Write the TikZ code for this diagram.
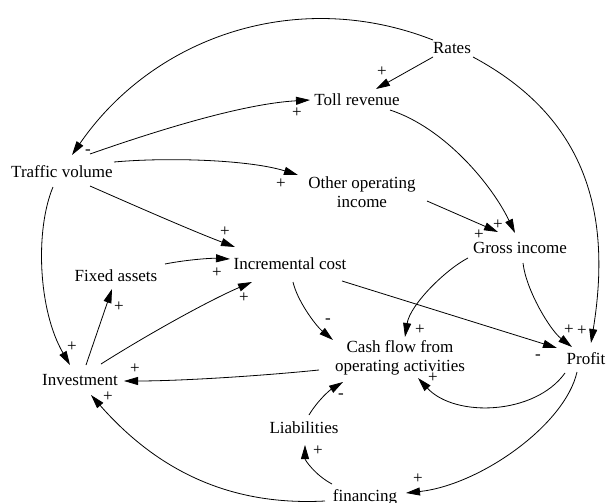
\documentclass[tikz,border=0pt]{standalone}
\usepackage{fontspec}
\setmainfont{Liberation Serif}
\usetikzlibrary{arrows.meta}
\begin{document}
\begin{tikzpicture}[x=1pt,y=-1pt,
  every node/.style={inner sep=0pt, font=\fontsize{17}{19.5}\selectfont},
  var/.style={align=center},
  lbl/.style={},
  link/.style={line width=0.8pt, -{Triangle[length=14pt,width=8pt]}}]
\useasboundingbox (0,0) rectangle (606,503);
% variables
\node[var] (rates) at (452,48) {Rates};
\node[var] (toll) at (357,100) {Toll revenue};
\node[var] (traffic) at (62,172) {Traffic volume};
\node[var] (other) at (362,192) {Other operating\\income};
\node[var] (gross) at (520,248) {Gross income};
\node[var] (incr) at (290,264) {Incremental cost};
\node[var] (fixed) at (116,276) {Fixed assets};
\node[var] (invest) at (80,380) {Investment};
\node[var] (cash) at (400,358) {Cash flow from\\operating activities};
\node[var] (profit) at (586,359) {Profit};
\node[var] (liab) at (304,428) {Liabilities};
\node[var] (fin) at (365,497) {financing};
% links
\draw[link] ([shift={(-19,-8)}]rates.center) .. controls (298,-13) and (154,36) .. ([shift={(10,-17)}]traffic.center);
\draw[link] ([shift={(-19,9)}]rates.center) -- ([shift={(19,-11)}]toll.center);
\draw[link] ([shift={(28,-18)}]traffic.center) .. controls (150,133) and (240,104) .. ([shift={(-47,0)}]toll.center);
\draw[link] ([shift={(52,-10)}]traffic.center) .. controls (170,157) and (250,160) .. ([shift={(-64,-17)}]other.center);
\draw[link] ([shift={(28,14)}]traffic.center) .. controls (140,208) and (195,232) .. ([shift={(-55,-17)}]incr.center);
\draw[link] ([shift={(-9,15)}]traffic.center) .. controls (35,230) and (38,310) .. ([shift={(-10,-15)}]invest.center);
\draw[link] ([shift={(33,10)}]toll.center) .. controls (445,128) and (492,185) .. ([shift={(-5,-15)}]gross.center);
\draw[link] ([shift={(65,9)}]other.center) -- ([shift={(-22,-16)}]gross.center);
\draw[link] ([shift={(21,9)}]rates.center) .. controls (587,118) and (612,214) .. ([shift={(5,-16)}]profit.center);
\draw[link] ([shift={(-52,10)}]gross.center) .. controls (445,270) and (410,305) .. ([shift={(5,-21)}]cash.center);
\draw[link] ([shift={(3,15)}]gross.center) .. controls (526,290) and (550,330) .. ([shift={(-14,-12)}]profit.center);
\draw[link] ([shift={(52,17)}]incr.center) -- ([shift={(-29,-11)}]profit.center);
\draw[link] ([shift={(3,18)}]incr.center) .. controls (297,300) and (315,325) .. ([shift={(-67,-18)}]cash.center);
\draw[link] ([shift={(49,-12)}]fixed.center) .. controls (185,260) and (210,258) .. ([shift={(-60,-5)}]incr.center);
\draw[link] ([shift={(6,-15)}]invest.center) -- ([shift={(-4,13)}]fixed.center);
\draw[link] ([shift={(21,-16)}]invest.center) .. controls (150,333) and (210,300) .. ([shift={(-38,18)}]incr.center);
\draw[link] ([shift={(-81,12)}]cash.center) .. controls (260,376) and (180,381) .. ([shift={(44,1)}]invest.center);
\draw[link] ([shift={(-21,14)}]profit.center) .. controls (535,415) and (455,418) .. ([shift={(18,20)}]cash.center);
\draw[link] ([shift={(5,-13)}]liab.center) .. controls (318,400) and (330,390) .. ([shift={(-57,24)}]cash.center);
\draw[link] ([shift={(-33,-13)}]fin.center) .. controls (315,475) and (305,460) .. ([shift={(1,17)}]liab.center);
\draw[link] ([shift={(-9,13)}]profit.center) .. controls (565,425) and (480,485) .. ([shift={(41,-4)}]fin.center);
\draw[link] ([shift={(-40,4)}]fin.center) .. controls (250,505) and (170,485) .. ([shift={(11,15)}]invest.center);
% polarity labels
\node[lbl] (l1) at (88,152) {-};
\node[lbl] (l2) at (382,72) {+};
\node[lbl] (l3) at (297,113) {+};
\node[lbl] (l4) at (281,184) {+};
\node[lbl] (l5) at (225,232) {+};
\node[lbl] (l6) at (72,347) {+};
\node[lbl] (l7) at (498,225) {+};
\node[lbl] (l8) at (479,235) {+};
\node[lbl] (l9) at (582,331) {+};
\node[lbl] (l10) at (420,330) {+};
\node[lbl] (l11) at (569,330) {+};
\node[lbl] (l12) at (538,357) {-};
\node[lbl] (l13) at (328,321) {-};
\node[lbl] (l14) at (217,273) {+};
\node[lbl] (l15) at (119,307) {+};
\node[lbl] (l16) at (244,298) {+};
\node[lbl] (l17) at (135,369) {+};
\node[lbl] (l18) at (433,378) {+};
\node[lbl] (l19) at (341,396) {-};
\node[lbl] (l20) at (318,451) {+};
\node[lbl] (l21) at (418,479) {+};
\node[lbl] (l22) at (108,397) {+};
\end{tikzpicture}
\end{document}
